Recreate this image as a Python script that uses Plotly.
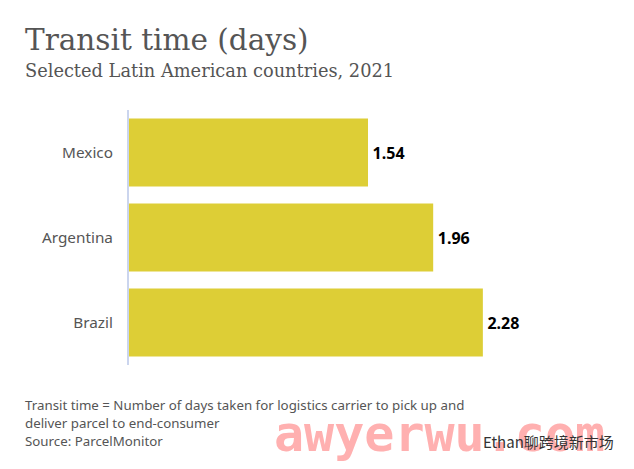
import plotly.graph_objects as go

# Values
countries = ['Mexico', 'Argentina', 'Brazil']
transit_days = [1.54, 1.96, 2.28]
day_labels = ['\u200a1.54', '\u200a1.96', '\u200a2.28']

title = 'Transit time (days)'
subtitle = 'Selected Latin American countries, 2021'
notes = [
    'Transit time = Number of days taken for logistics carrier to pick up and',
    'deliver parcel to end-consumer',
    'Source: ParcelMonitor',
]

W, H = 634, 469
LEFT, RIGHT, TOP, BOTTOM = 129, 517, 110, 365
SANS = 'Noto Sans'
SERIF = 'DejaVu Serif'
GREY = '#555555'


def page_text(x, y, text, size, color=GREY, family=SANS, weight='normal'):
    # place text by page pixels, converted to the plot area's paper fractions
    return dict(x=(x - LEFT) / (RIGHT - LEFT), y=1 - (y - TOP) / (BOTTOM - TOP),
                xref='paper', yref='paper', text=text,
                showarrow=False, xanchor='left', yanchor='middle',
                align='left', font=dict(size=size, color=color, family=family, weight=weight))


fig = go.Figure(go.Bar(
    x=transit_days,
    y=countries,
    orientation='h',
    width=0.8,
    marker=dict(color='#DDCE36', line=dict(width=0)),
    text=day_labels,
    textposition='outside',
    cliponaxis=False,
    textfont=dict(family=SANS, size=16, color='#000000', weight='bold'),
))

annotations = [
    page_text(23, 40, title, 29.5, family=SERIF),
    page_text(23, 70, subtitle, 17.8, family=SERIF),
]
for text, y in zip(notes, [405, 423, 441]):
    annotations.append(page_text(23, y, text, 13.3))
annotations.append(page_text(272, 434, 'awyerwu.com', 50, color='#FFB0B0',
                             family='DejaVu Sans Mono', weight='bold'))
annotations.append(page_text(481, 441, 'Ethan聊跨境新市场', 15, color='#333333', family='Noto Sans CJK SC'))

fig.update_layout(
    width=W,
    height=H,
    margin=dict(l=LEFT, r=W - RIGHT, t=TOP, b=H - BOTTOM, pad=0),
    paper_bgcolor='white',
    plot_bgcolor='white',
    showlegend=False,
    annotations=annotations,
    xaxis=dict(range=[0, 2.5], visible=False),
    yaxis=dict(
        autorange='reversed',
        showgrid=False,
        ticks='',
        ticklabelstandoff=11,
        showline=True,
        linecolor='#CBD5EE',
        linewidth=2,
        tickfont=dict(family=SANS, size=15.3, color=GREY),
    ),
)

fig.write_html('out.html', config=dict(displayModeBar=False),
               post_script="document.body.style.margin='0';")
